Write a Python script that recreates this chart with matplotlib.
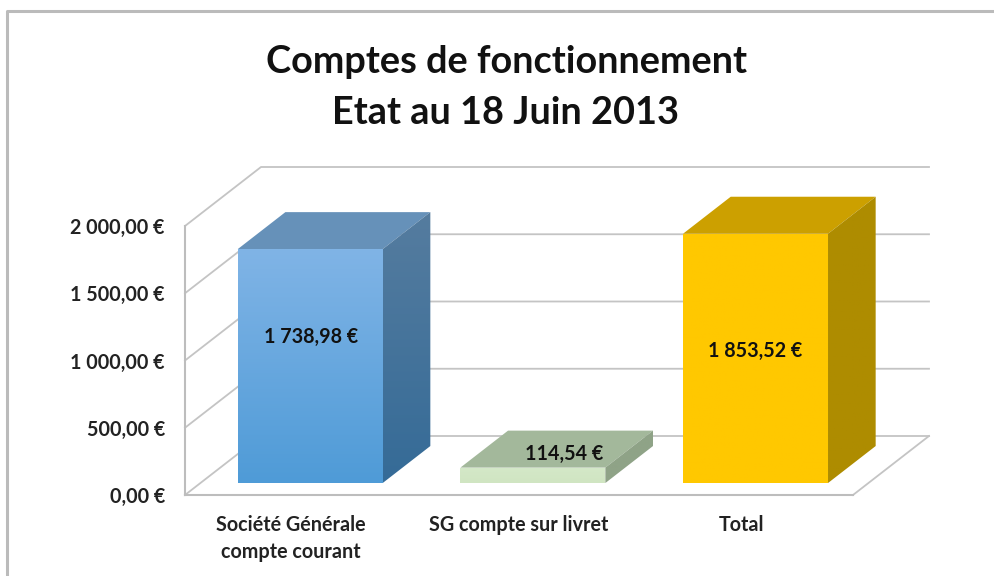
import numpy as np
from matplotlib import pyplot as plt
from matplotlib.colors import LinearSegmentedColormap
from matplotlib.lines import Line2D
from matplotlib.patches import Polygon

plt.rcParams['font.family'] = ['Lato', 'DejaVu Sans']

title = "Comptes de fonctionnement\nEtat au 18 Juin 2013"
categories = ["Société Générale\ncompte courant", "SG compte sur livret", "Total"]
values = [1738.98, 114.54, 1853.52]
value_labels = ["1 738,98 €", "114,54 €", "1 853,52 €"]
yticks = [0, 500, 1000, 1500, 2000]
ytick_labels = ["0,00 €", "500,00 €", "1 000,00 €", "1 500,00 €", "2 000,00 €"]

# couleurs : face avant (haut, bas), dessus, cote (haut, bas)
front_colors = [("#80b4e6", "#4f9bd7"), ("#d4e8c8", "#d0e5c2"), ("#ffc800", "#ffc800")]
top_colors = ["#6691b9", "#a3b89b", "#cca000"]
side_colors = [("#557c9f", "#356b97"), ("#8fa387", "#8fa387"), ("#ae8c00", "#ae8c00")]
# decalage des etiquettes par rapport au centre de la barre (px)
label_shift = [(-1, 29), (30, 21), (-2, 7)]

W, H = 994, 576
fig = plt.figure(figsize=(W / 100, H / 100), dpi=100)
ax = fig.add_axes([185 / W, 1 - 495 / H, 668 / W, 269 / H])
ax.set_xlim(-0.5, 2.5)
ax.set_ylim(0, 2000)

# profondeur du plancher, en unites des axes
DX = 76 / (668 / 3)
DY = 59 / (269 / 2000)
BAR_W = 0.651
BAR_SHIFT = -0.007
D0, D1 = 0.203, 0.83
GRID = "#c4c4c4"


def depth(x, v, d):
    return x + d * DX, v + d * DY


def shaded(ax, pts, c_top, c_bottom, z):
    # polygone avec degrade vertical
    poly = Polygon(pts, closed=True, facecolor="none", edgecolor="none", zorder=z, clip_on=False)
    ax.add_patch(poly)
    pts = np.array(pts)
    cmap = LinearSegmentedColormap.from_list("g", [c_top, c_bottom])
    im = ax.imshow(np.linspace(0, 1, 128).reshape(-1, 1), cmap=cmap, aspect="auto", zorder=z,
                   extent=[pts[:, 0].min(), pts[:, 0].max(), pts[:, 1].min(), pts[:, 1].max()],
                   origin="upper")
    # sinon l'image est coupee au cadre des axes
    im.set_clip_box(fig.bbox)
    im.set_clip_path(poly)


# murs : grille de gauche et du fond
for t in yticks:
    x0, y0 = depth(-0.5, t, 1)
    x1, y1 = depth(2.5, t, 1)
    ax.plot([-0.5, x0, x1], [t, y0, y1], color=GRID, lw=1.3, clip_on=False, zorder=1)
x0, y0 = depth(2.5, 0, 1)
ax.plot([2.5, x0], [0, y0], color=GRID, lw=1.3, clip_on=False, zorder=1)

for i, v in enumerate(values):
    left = i - BAR_W / 2 + BAR_SHIFT
    right = i + BAR_W / 2 + BAR_SHIFT
    front = [depth(left, 0, D0), depth(right, 0, D0), depth(right, v, D0), depth(left, v, D0)]
    side = [depth(right, 0, D0), depth(right, 0, D1), depth(right, v, D1), depth(right, v, D0)]
    top = [depth(left, v, D0), depth(right, v, D0), depth(right, v, D1), depth(left, v, D1)]
    ax.add_patch(Polygon(top, closed=True, facecolor=top_colors[i], edgecolor="none", zorder=3, clip_on=False))
    shaded(ax, side, side_colors[i][0], side_colors[i][1], 3)
    shaded(ax, front, front_colors[i][0], front_colors[i][1], 4)
    ax.annotate(value_labels[i], depth(i, v / 2, D0), xytext=(label_shift[i][0] * 0.72, label_shift[i][1] * 0.72),
                textcoords="offset points", ha="center", va="center",
                fontsize=14.2, fontweight="bold", color="#111111", zorder=6)

ax.set_xlim(-0.5, 2.5)
ax.set_ylim(0, 2000)
ax.set_facecolor("none")
ax.set_yticks(yticks)
ax.set_yticklabels(ytick_labels, fontsize=14.2, fontweight="bold", color="#222222")
ax.set_xticks([-0.025, 1, 2])
ax.set_xticklabels(categories, fontsize=14.2, fontweight="bold", color="#222222", linespacing=1.45)
ax.tick_params(axis="y", length=0, pad=14.5)
ax.tick_params(axis="x", length=0, pad=14.5)
for s in ["top", "right"]:
    ax.spines[s].set_visible(False)
for s in ["left", "bottom"]:
    ax.spines[s].set_color("#bdbdbd")
    ax.spines[s].set_linewidth(1.5)

fig.text(506 / W, 1 - 87.5 / H, title, ha="center", va="center", fontsize=27.3, fontweight="bold",
         color="#111111", linespacing=1.62)

# cadre du graphique
fig.add_artist(Line2D([7 / W, 7 / W, 1], [0, 1 - 10.5 / H, 1 - 10.5 / H], color="#bbbbbb", lw=2.2))

fig.savefig("out.png", dpi=100)
